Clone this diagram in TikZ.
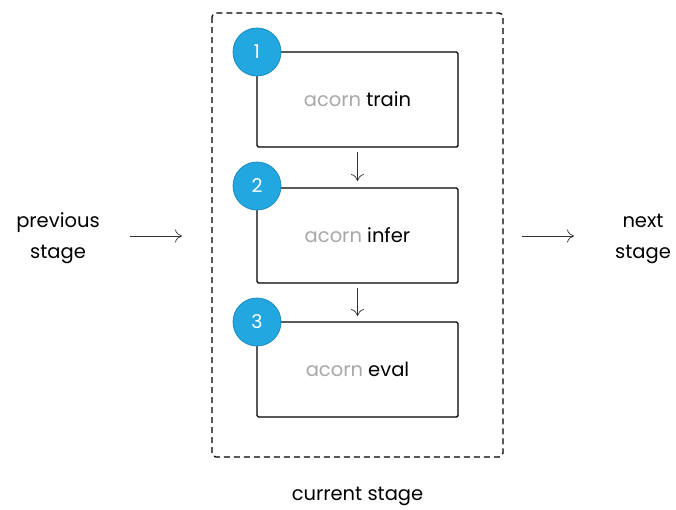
\documentclass[tikz,border=0pt]{standalone}
\usepackage{fontspec}
\setmainfont{Poppins}
\usetikzlibrary{arrows.meta}
\definecolor{circfill}{HTML}{22A7E0}
\definecolor{circline}{HTML}{1A8CC0}
\definecolor{acgray}{HTML}{A8A8A8}
\begin{document}
\begin{tikzpicture}[x=1pt,y=-1pt,
  stagebox/.style={draw=black,line width=1.4pt,rounded corners=1.5pt,minimum width=201pt,minimum height=95pt,inner sep=0pt,font=\fontsize{19.5}{20}\selectfont},
  numcirc/.style={circle,fill=circfill,draw=circline,line width=0.8pt,minimum size=48pt,inner sep=0pt,text=white,font=\fontsize{19}{20}\selectfont},
  flow/.style={draw=black!80,line width=0.7pt,-{To[length=7pt,width=13pt]}},
  lbl/.style={align=center,font=\fontsize{19.5}{31}\selectfont}]
\useasboundingbox (0,0) rectangle (676,509);
\draw[line width=1.3pt,dash pattern=on 6pt off 4pt,rounded corners=4pt] (212,13) rectangle (503,457);
\node[stagebox] (b1) at (357.5,99.5) {\textcolor{acgray}{acorn} train};
\node[stagebox] (b2) at (357.5,235.5) {\textcolor{acgray}{acorn} infer};
\node[stagebox] (b3) at (357.5,369.5) {\textcolor{acgray}{acorn} eval};
\node[numcirc] (c1) at (257,52) {1};
\node[numcirc] (c2) at (257,186) {2};
\node[numcirc] (c3) at (257,322) {3};
\coordinate (a1s) at (357.5,152);
\coordinate (a1e) at (357.5,181);
\coordinate (a2s) at (357.5,288);
\coordinate (a2e) at (357.5,316);
\draw[flow] (a1s) -- (a1e);
\draw[flow] (a2s) -- (a2e);
\node[lbl] (prev) at (58,238.5) {previous\\stage};
\node[lbl] (next) at (643,238.5) {next\\stage};
\node[lbl] (cur) at (357.5,496) {current stage};
\coordinate (l1) at (130,236);
\coordinate (l2) at (182,236);
\coordinate (r1) at (522,236);
\coordinate (r2) at (574,236);
\draw[flow] (l1) -- (l2);
\draw[flow] (r1) -- (r2);
\end{tikzpicture}
\end{document}
